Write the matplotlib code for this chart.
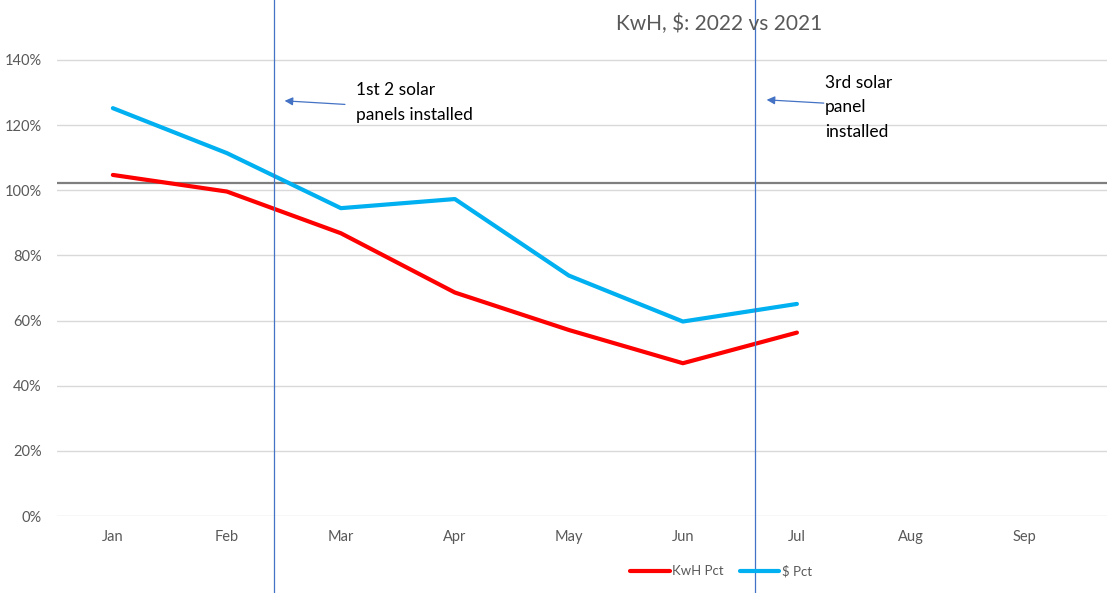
import matplotlib
matplotlib.use("Agg")
import matplotlib.pyplot as plt
from matplotlib.transforms import blended_transform_factory
from matplotlib.ticker import PercentFormatter

months = ["Jan", "Feb", "Mar", "Apr", "May", "Jun", "Jul", "Aug", "Sep"]
kwh_pct = [1.047, 0.996, 0.868, 0.686, 0.571, 0.469, 0.563]
usd_pct = [1.252, 1.114, 0.945, 0.973, 0.738, 0.597, 0.651]
ref_level = 1.021
solar_events = [1.417, 5.632]
notes = ["1st 2 solar\npanels installed", "3rd solar\npanel\ninstalled"]

plt.rcParams['font.family'] = ['Lato', 'DejaVu Sans']

fig = plt.figure(figsize=(11.07, 5.93), dpi=100)
ax = fig.add_axes([57/1107, 77/593, 1050/1107, 516/593])

x = list(range(len(months)))
ax.plot(x[:len(kwh_pct)], kwh_pct, color="#FF0000", lw=3, solid_capstyle="round", label="KwH Pct", zorder=3)
ax.plot(x[:len(usd_pct)], usd_pct, color="#00B0F0", lw=3, solid_capstyle="round", label="$ Pct", zorder=3)

ax.set_xlim(-0.49, 8.72)
ax.set_ylim(0, 1.584)
ax.set_yticks([0, 0.2, 0.4, 0.6, 0.8, 1.0, 1.2, 1.4])
ax.yaxis.set_major_formatter(PercentFormatter(1.0, decimals=0))
ax.set_xticks(x)
ax.set_xticklabels(months)
ax.tick_params(axis="both", length=0, labelsize=10.5, labelcolor="#595959")
ax.tick_params(axis="y", pad=11)
ax.tick_params(axis="x", pad=10)
ax.grid(axis="y", color="#D9D9D9", lw=1)
ax.set_axisbelow(True)
for s in ax.spines.values():
    s.set_visible(False)

# 100% reference line
ax.axhline(ref_level, color="#7F7F7F", lw=1.6, zorder=2)

# install markers spanning the whole picture
tr = blended_transform_factory(ax.transData, fig.transFigure)
for ev in solar_events:
    ax.plot([ev, ev], [0, 1], transform=tr, color="#4472C4", lw=0.9, clip_on=False, zorder=4)

arrow = dict(arrowstyle="-|>", color="#4472C4", lw=0.9, mutation_scale=12)
ax.annotate("", xy=(1.482, 1.275), xytext=(2.06, 1.263), arrowprops=arrow)
ax.annotate("", xy=(5.71, 1.278), xytext=(6.26, 1.267), arrowprops=arrow)
ax.text(2.13, 1.332, notes[0], fontsize=12.5, va="top", ha="left", linespacing=1.65)
ax.text(6.245, 1.354, notes[1], fontsize=12.5, va="top", ha="left", linespacing=1.65)

fig.text(0.650, 0.9595, "KwH, $: 2022 vs 2021", fontsize=15, color="#595959", ha="center", va="center")

fig.legend(loc="center", bbox_to_anchor=(721/1107, 1 - 571/593), ncol=2, frameon=False,
           fontsize=9.5, handlelength=3.0, handletextpad=0.2, columnspacing=1.2,
           labelcolor="#595959")

fig.savefig("out.png", dpi=100)
